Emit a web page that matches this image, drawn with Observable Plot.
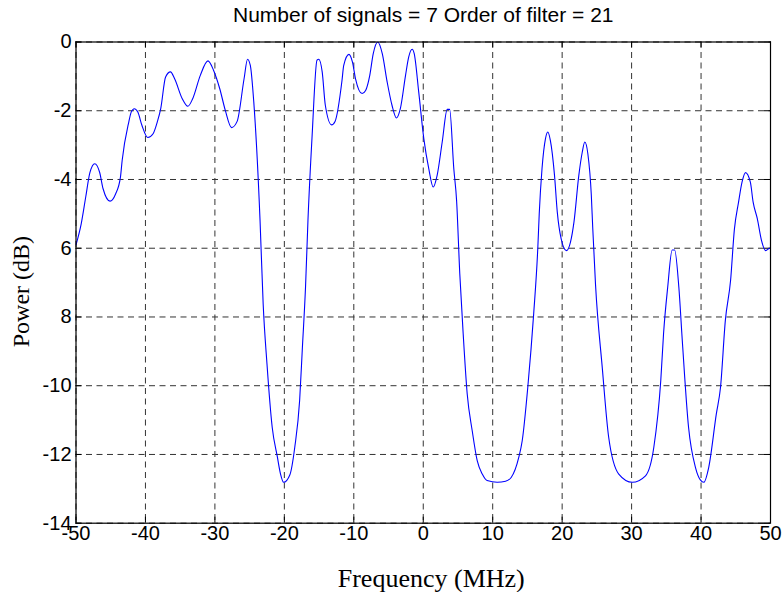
<!DOCTYPE html>
<html>
<head>
<meta charset="utf-8">
<script src="https://cdn.jsdelivr.net/npm/d3@7"></script>
<script src="https://cdn.jsdelivr.net/npm/@observablehq/plot@0.6"></script>
<style>
  html, body { margin: 0; padding: 0; background: #fff; }
  #chart svg { display: block; }
</style>
</head>
<body>
<div id="chart"></div>
<script>
const titleText = "Number of signals = 7 Order of filter = 21";
const xLabel = "Frequency (MHz)";
const yLabel = "Power (dB)";

const xTicks = [-50, -40, -30, -20, -10, 0, 10, 20, 30, 40, 50];
const xTickLabels = ["-50", "-40", "-30", "-20", "-10", "0", "10", "20", "30", "40", "50"];
const yTicks = [0, -2, -4, -6, -8, -10, -12, -14];
const yTickLabels = ["0", "-2", "-4", "6", "8", "-10", "-12", "-14"];

const frequency = [
  -50, -49.25, -48.6, -48.0, -47.3, -46.6, -46.1, -45.1, -44.3, -43.6, -43.35, -42.4, -42.05, -41.6, -41.1,
  -40.5, -39.66, -38.9, -38.3, -37.8, -37.1, -36.4, -35.8, -34.7, -33.9, -33.2, -32.1, -31.0, -30.2,
  -29.3, -28.5, -27.6, -26.8, -25.8, -25.3, -24.9, -24.4, -23.5, -23.05, -22.5, -21.75, -21.0, -20.55,
  -20.1, -19.2, -18.5, -17.8, -17.4, -16.95, -16.6, -16.0, -15.3, -15.05, -14.55, -14.1, -13.2, -12.7,
  -11.7, -11.45, -10.7, -10.2, -9.75, -8.8, -8.3, -7.7, -7.2, -6.55, -5.9, -5.2, -4.5, -3.85, -3.3,
  -2.55, -2.1, -1.6, -1.3, -0.65, 0.08, 0.8, 1.43, 2.0, 2.73, 3.45, 3.8, 4.4, 4.8, 5.26, 5.75, 6.33,
  7.05, 7.77, 8.5, 9.2, 10.65, 11.85, 12.66, 13.76, 14.25, 15.05, 15.9, 16.5, 16.7, 17.1, 17.6, 17.93,
  18.3, 18.9, 19.3, 19.86, 20.6, 21.2, 21.7, 22.4, 22.9, 23.26, 23.7, 24.2, 24.4, 24.8, 25.77, 26.7,
  28.15, 30.1, 32.0, 33.2, 34.2, 34.6, 35.2, 35.84, 36.2, 36.8, 37.3, 38.2, 39.2, 39.9, 40.4, 41.1,
  42.2, 42.8, 43.5, 44.25, 44.8, 45.4, 45.9, 46.4, 47.1, 47.5, 48.1, 48.7, 49.3, 49.9, 50
];
const power = [
  -5.9, -5.29, -4.51, -3.8, -3.54, -3.79, -4.27, -4.63, -4.42, -3.93, -3.44, -2.33, -2.04, -1.94, -2.04,
  -2.43, -2.78, -2.67, -2.33, -1.94, -1.02, -0.87, -1.07, -1.65, -1.87, -1.65, -0.97, -0.55, -0.82,
  -1.36, -1.99, -2.49, -2.31, -1.07, -0.50, -0.68, -1.75, -5.19, -7.62, -9.37, -11.21, -12.08, -12.57,
  -12.81, -12.59, -11.79, -10.43, -8.88, -7.13, -5.19, -2.72, -0.53, -0.50, -0.87, -1.84, -2.41, -2.31,
  -1.12, -0.68, -0.36, -0.58, -1.07, -1.50, -1.41, -0.97, -0.34, 0.0, -0.34, -1.16, -1.84, -2.21, -1.94,
  -0.97, -0.44, -0.21, -0.34, -1.46, -2.81, -3.69, -4.22, -3.88, -2.91, -1.96, -1.96, -3.69, -4.61, -6.74, -8.49, -10.24,
  -11.31, -12.18, -12.57, -12.76, -12.81, -12.78, -12.67, -12.08, -11.6, -10.05, -7.91, -5.97, -5.0, -3.69, -2.81, -2.62,
  -2.86, -3.88, -4.95, -5.73, -6.07, -5.82, -5.24, -3.88, -3.2, -2.91, -3.25, -4.46, -5.39, -7.04, -9.46, -11.5,
  -12.57, -12.81, -12.62, -11.79, -9.85, -8.49, -7.13, -6.05, -6.05, -7.13, -8.69, -11.21, -12.38, -12.74, -12.81, -12.38,
  -10.82, -10.05, -8.1, -6.94, -5.45, -4.66, -4.08, -3.80, -4.08, -4.66, -5.14, -5.77, -6.07, -6.0, -6.0
];

const data = frequency.map((f, i) => ({f, p: power[i]}));

const W = 783, H = 592;
const mL = 75.5, mR = 13, mT = 41.5, mB = 69.3;
const xDom = [-50, 50], yDom = [-14, 0];
const tickPx = 6;
const tickY = tickPx * (yDom[1] - yDom[0]) / (H - mT - mB);
const tickX = tickPx * (xDom[1] - xDom[0]) / (W - mL - mR);

const gridColor = "#333";
const sans = "'Liberation Sans', Arial, sans-serif";
const serif = "'Liberation Serif', 'Times New Roman', serif";

const chart = Plot.plot({
  width: W,
  height: H,
  marginLeft: mL,
  marginRight: mR,
  marginTop: mT,
  marginBottom: mB,
  style: {fontFamily: sans, fontSize: "20px", color: "#000", background: "#fff"},
  x: {domain: xDom, ticks: xTicks},
  y: {domain: yDom, ticks: yTicks},
  marks: [
    Plot.gridX(xTicks, {stroke: gridColor, strokeOpacity: 1, strokeWidth: 1, strokeDasharray: "6,4.5"}),
    Plot.gridY(yTicks, {stroke: gridColor, strokeOpacity: 1, strokeWidth: 1, strokeDasharray: "6,4.5"}),
    Plot.ruleX(xTicks, {x: d => d, y1: yDom[0], y2: yDom[0] + tickY, stroke: "#000"}),
    Plot.ruleX(xTicks, {x: d => d, y1: yDom[1], y2: yDom[1] - tickY, stroke: "#000"}),
    Plot.ruleY(yTicks, {y: d => d, x1: xDom[0], x2: xDom[0] + tickX, stroke: "#000"}),
    Plot.ruleY(yTicks, {y: d => d, x1: xDom[1], x2: xDom[1] - tickX, stroke: "#000"}),
    Plot.line(data, {x: "f", y: "p", stroke: "#0000ff", strokeWidth: 1.1, curve: "monotone-x", clip: true}),
    Plot.frame({stroke: "#000", strokeWidth: 1.2}),
    Plot.axisX(xTicks, {tickSize: 0, tickPadding: 2.5, label: null,
      tickFormat: d => xTickLabels[xTicks.indexOf(d)], fontSize: 20}),
    Plot.axisY(yTicks, {tickSize: 0, tickPadding: 4.5, label: null,
      tickFormat: d => yTickLabels[yTicks.indexOf(d)], fontSize: 20}),
    Plot.text([titleText], {frameAnchor: "top", dy: -27, lineAnchor: "middle", fontSize: 21,
      fontFamily: sans}),
    Plot.text([xLabel], {frameAnchor: "bottom", dy: 55, dx: 8, lineAnchor: "middle", textAnchor: "middle",
      fontSize: 26, fontFamily: serif}),
    Plot.text([yLabel], {frameAnchor: "left", dx: -55, dy: 9, rotate: -90, lineAnchor: "middle", textAnchor: "middle",
      fontSize: 24, fontFamily: serif})
  ]
});
document.getElementById("chart").appendChild(chart);
</script>
</body>
</html>
